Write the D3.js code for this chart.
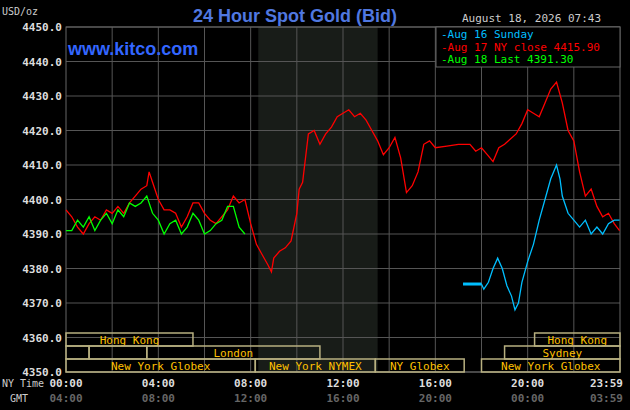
<!DOCTYPE html><html><head><script src="https://cdn.jsdelivr.net/npm/d3@7"></script>
<style>body{margin:0;background:#000}</style></head><body><svg id="c" width="630" height="410"></svg><script>
const yTicks=[4350,4360,4370,4380,4390,4400,4410,4420,4430,4440,4450];
const xTickHours=[0,4,8,12,16,20,23.983];
const nyLabels=["00:00","04:00","08:00","12:00","16:00","20:00","23:59"];
const gmtLabels=["04:00","08:00","12:00","16:00","20:00","00:00","03:59"];
const redT=[0,0.25,0.5,0.75,1,1.25,1.5,1.75,2,2.25,2.5,2.75,3,3.25,3.5,3.6,3.75,4,4.25,4.5,4.75,5,5.25,5.5,5.75,6,6.25,6.5,6.75,7,7.25,7.5,7.75,8,8.25,8.5,8.75,8.9,9,9.25,9.5,9.75,10,10.1,10.25,10.5,10.75,11,11.25,11.5,11.75,12,12.25,12.5,12.75,13,13.25,13.5,13.75,14,14.25,14.5,14.75,15,15.25,15.5,15.75,16,16.5,17,17.25,17.5,17.75,18,18.25,18.5,18.75,19,19.5,19.75,20,20.25,20.5,20.75,21,21.25,21.5,21.75,22,22.25,22.5,22.75,23,23.25,23.5,23.75,23.98];
const redV=[4397,4395,4392,4390,4393,4395,4394,4397,4396,4398,4396,4399,4401,4403,4404,4408,4405,4400,4397,4397,4396,4392,4395,4399,4399,4396,4394,4393,4395,4397,4401,4399,4400,4393,4387,4384,4381,4379,4383,4385,4386,4388,4396,4403,4405,4419,4420,4416,4419,4421,4424,4425,4426,4424,4425,4423,4420,4417,4413,4415,4418,4412,4402,4404,4408,4416,4417,4415,4415.5,4416,4416,4416,4414,4415,4413,4411,4415,4416,4419,4422,4426,4425,4424,4428,4432,4434,4428,4420,4417,4408,4401,4403,4398,4395,4396,4393,4391];
const greenT=[0,0.25,0.5,0.75,1,1.25,1.5,1.75,2,2.25,2.5,2.75,3,3.25,3.5,3.75,4,4.25,4.5,4.75,5,5.25,5.5,5.75,6,6.25,6.5,6.75,7,7.25,7.5,7.75];
const greenV=[4391,4391,4394,4392,4395,4391,4394,4396,4393,4397,4395,4399,4398,4399,4401,4396,4394,4390,4393,4394,4390,4392,4396,4394,4390,4391,4393,4394,4398,4398,4392,4390];
const cyanT=[17.2,18.0,18.1,18.3,18.5,18.7,18.9,19.1,19.3,19.45,19.6,19.75,20,20.25,20.5,20.75,21,21.25,21.4,21.5,21.75,22,22.25,22.5,22.75,23,23.25,23.5,23.75,23.98];
const cyanV=[4375.5,4375.5,4374,4376,4380,4383,4380,4375,4372,4368,4370,4376,4382,4387,4394,4400,4406,4410,4406,4401,4396,4394,4392,4394,4390,4392,4390,4393,4394,4394];
const legend=[["Aug 16 Sunday","#00bfff"],["Aug 17 NY close 4415.90","#ff0000"],["Aug 18 Last 4391.30","#00ff00"]];
const sessions=[[0,5.5,0,"Hong Kong"],[20.3,24,0,"Hong Kong"],[0,1,1,""],[1,3.5,1,""],[3.5,11,1,"London"],[19,24,1,"Sydney"],[0,8.2,2,"New York Globex"],[8.2,13.4,2,"New York NYMEX"],[13.4,17.25,2,"NY Globex"],[18,24,2,"New York Globex"]];
const svg=d3.select("#c");const mono="'DejaVu Sans Mono',monospace";
const x=d3.scaleLinear().domain([0,24]).range([66,620]);
const y=d3.scaleLinear().domain([4350,4450]).range([372,27]);
svg.append("rect").attr("x",x(8.33)).attr("y",27).attr("width",x(13.5)-x(8.33)).attr("height",345).attr("fill","#181c18");
d3.range(2,24,2).forEach(h=>svg.append("line").attr("x1",x(h)).attr("x2",x(h)).attr("y1",27).attr("y2",372).attr("stroke","#555"));
yTicks.forEach(v=>svg.append("line").attr("x1",66).attr("x2",620).attr("y1",y(v)).attr("y2",y(v)).attr("stroke","#555"));
svg.append("rect").attr("x",66).attr("y",27).attr("width",554).attr("height",345).attr("fill","none").attr("stroke","#666");
const rowY=[333,346,359];
sessions.forEach(s=>{svg.append("rect").attr("x",x(s[0])).attr("y",rowY[s[2]]).attr("width",x(s[1])-x(s[0])).attr("height",13).attr("fill","none").attr("stroke","#b8b080").attr("stroke-width",1.5);
 if(s[3])svg.append("text").attr("x",(x(s[0])+x(s[1]))/2).attr("y",rowY[s[2]]+10.5).attr("text-anchor","middle").attr("fill","#ffc000").attr("font-family",mono).attr("font-size",11).text(s[3]);});
svg.append("g").selectAll("text").data(yTicks).join("text").attr("x",62).attr("y",d=>y(d)+4).attr("text-anchor","end").attr("fill","#ddd").attr("font-family",mono).attr("font-weight","bold").attr("font-size",11).text(d=>d.toFixed(1));
const last=xTickHours.length-1;
svg.append("g").selectAll("text").data(xTickHours).join("text").attr("x",(d,i)=>i==last?623:x(d)).attr("y",387).attr("text-anchor",(d,i)=>i==last?"end":"middle").attr("fill","#ddd").attr("font-family",mono).attr("font-weight","bold").attr("font-size",11).text((d,i)=>nyLabels[i]);
svg.append("g").selectAll("text").data(xTickHours).join("text").attr("x",(d,i)=>i==last?623:x(d)).attr("y",402).attr("text-anchor",(d,i)=>i==last?"end":"middle").attr("fill","#666").attr("font-family",mono).attr("font-weight","bold").attr("font-size",11).text((d,i)=>gmtLabels[i]);
svg.append("text").attr("x",2).attr("y",387).attr("fill","#ccc").attr("font-family",mono).attr("font-size",10).text("NY Time");
svg.append("text").attr("x",10).attr("y",402).attr("fill","#ccc").attr("font-family",mono).attr("font-size",10).text("GMT");
svg.append("text").attr("x",2).attr("y",15).attr("fill","#ccc").attr("font-family",mono).attr("font-size",10).text("USD/oz");
svg.append("text").attr("x",295).attr("y",22).attr("text-anchor","middle").attr("fill","#5078e0").attr("font-family","'Liberation Sans',Arial").attr("font-weight","bold").attr("font-size",18).text("24 Hour Spot Gold (Bid)");
svg.append("text").attr("x",68).attr("y",55).attr("fill","#3366ff").attr("font-family","'Liberation Sans',Arial").attr("font-weight","bold").attr("font-size",18).text("www.kitco.com");
svg.append("text").attr("x",462).attr("y",22).attr("fill","#ccc").attr("font-family",mono).attr("font-size",11).text("August 18, 2026 07:43");
svg.append("rect").attr("x",436).attr("y",27).attr("width",184).attr("height",40).attr("fill","#000").attr("stroke","#666");
legend.forEach((l,i)=>svg.append("text").attr("x",441).attr("y",38+i*12.5).attr("fill",l[1]).attr("font-family",mono).attr("font-size",11).text("-"+l[0]));
const line=d3.line().x(d=>x(d[0])).y(d=>y(d[1]));
[[redT,redV,"#ff0000"],[greenT,greenV,"#00ff00"],[cyanT,cyanV,"#00bfff"]].forEach(s=>svg.append("path").datum(d3.zip(s[0],s[1])).attr("d",line).attr("fill","none").attr("stroke",s[2]).attr("stroke-width",1.3));
svg.append("line").attr("x1",x(17.2)).attr("x2",x(18)).attr("y1",y(4375.5)).attr("y2",y(4375.5)).attr("stroke","#00bfff").attr("stroke-width",3);
</script></body></html>
